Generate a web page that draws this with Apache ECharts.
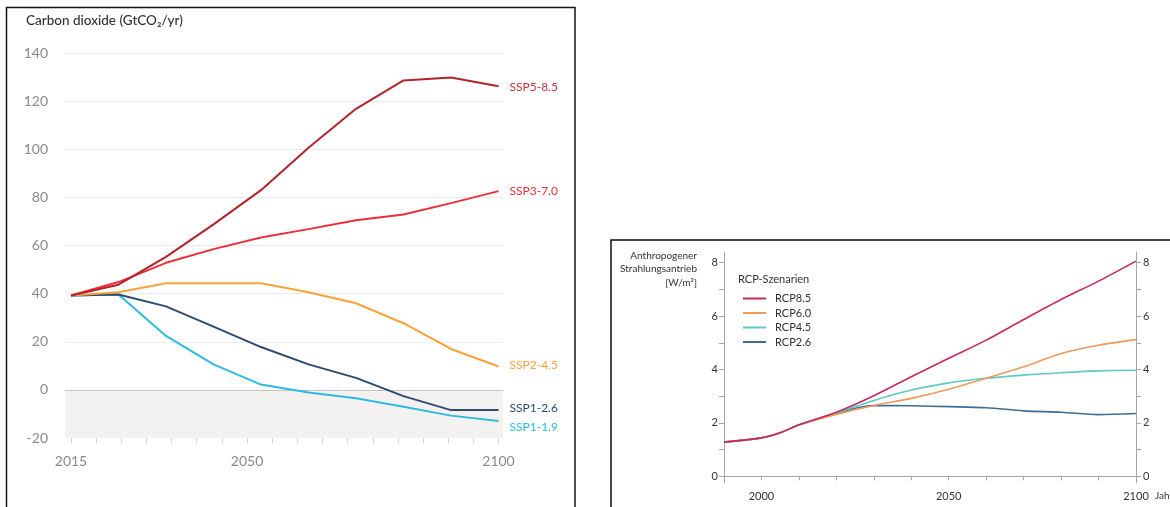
<!DOCTYPE html>
<html>
<head>
<meta charset="utf-8">
<script src="https://cdn.jsdelivr.net/npm/echarts@6/dist/echarts.min.js"></script>
<style>
  html, body { margin: 0; padding: 0; background: #fff; }
  #chart { width: 1170px; height: 507px; }
</style>
</head>
<body>
<div id="chart"></div>
<script>
// left chart: CO2 emissions per SSP scenario (points drawn evenly spaced, like the source)
const sspYears = ['2015', '2020', '2030', '2040', '2050', '2060', '2070', '2080', '2090', '2100']
const ssp585 = [39.2, 43.7, 55.3, 68.8, 83.0, 100.6, 116.8, 128.6, 129.8, 126.2]
const ssp370 = [39.2, 44.8, 52.8, 58.5, 63.3, 66.8, 70.5, 72.9, 77.6, 82.6]
const ssp245 = [39.2, 40.6, 44.3, 44.3, 44.3, 40.6, 36.0, 27.7, 17.0, 9.7]
const ssp126 = [39.2, 39.6, 34.7, 26.3, 17.8, 10.6, 5.0, -2.6, -8.4, -8.4]
const ssp119 = [39.2, 39.6, 22.4, 10.6, 2.2, -1.1, -3.5, -7.0, -10.7, -12.9]
const leftXLabels = [2015, 2050, 2100]

// right chart: anthropogenic radiative forcing per RCP scenario
const rcpYears = [1990, 2000, 2005, 2010, 2020, 2030, 2040, 2050, 2060, 2070, 2080, 2090, 2100]
const rcp85 = [1.28, 1.44, 1.63, 1.93, 2.40, 3.02, 3.73, 4.42, 5.10, 5.87, 6.62, 7.31, 8.06]
const rcp60 = [1.28, 1.44, 1.63, 1.92, 2.32, 2.65, 2.92, 3.26, 3.67, 4.10, 4.60, 4.91, 5.12]
const rcp45 = [1.28, 1.44, 1.63, 1.92, 2.37, 2.84, 3.23, 3.50, 3.67, 3.79, 3.88, 3.95, 3.97]
const rcp26 = [1.28, 1.44, 1.63, 1.92, 2.36, 2.65, 2.64, 2.61, 2.57, 2.45, 2.40, 2.31, 2.35]
const rcpYTicks = [0, 1, 2, 3, 4, 5, 6, 7, 8]
const rcpYLabels = [0, 2, 4, 6, 8]
const rcpXLabels = [2000, 2050, 2100]

const pair = (xs, ys) => xs.map((x, i) => [x, ys[i]])

const chart = echarts.init(document.getElementById('chart'))

const sspSeries = (name, data, color, labelColor, dy) => ({
  name: name,
  type: 'line',
  xAxisIndex: 1,
  yAxisIndex: 1,
  data: data,
  symbol: 'none',
  lineStyle: { color: color, width: 2 },
  endLabel: {
    show: true,
    formatter: name,
    color: labelColor,
    fontFamily: 'Lato',
    fontSize: 12,
    offset: [3, dy]
  },
  z: 3
})

const rcpSeries = (name, data, color) => ({
  name: name,
  type: 'line',
  xAxisIndex: 3,
  yAxisIndex: 3,
  data: pair(rcpYears, data),
  symbol: 'none',
  smooth: 0.3,
  color: color,
  lineStyle: { color: color, width: 1.6 }
})

const option = {
  animation: false,
  backgroundColor: '#fff',
  textStyle: { fontFamily: 'Lato' },
  grid: [
    // left background (grid lines + negative area)
    { left: 65, right: 667, top: 53, bottom: 69 },
    // left data
    { left: 71, right: 671.5, top: 53, bottom: 69 },
    // right background (unused)
    { left: 724, right: 34, top: 252, bottom: 24 },
    // right data
    { left: 724, right: 34, top: 252, bottom: 24 }
  ],
  xAxis: [
    { gridIndex: 0, type: 'value', min: 0, max: 1, show: false },
    { gridIndex: 1, type: 'category', position: 'top', data: sspYears, boundaryGap: false, show: false },
    {
      gridIndex: 1,
      type: 'value',
      position: 'bottom',
      min: 2015,
      max: 2100,
      interval: 5,
      axisLine: { show: false },
      axisTick: { show: true, length: 5, lineStyle: { color: '#cfcfcf' } },
      splitLine: { show: false },
      axisLabel: {
        color: '#8a8a8a',
        fontSize: 14,
        margin: 16,
        formatter: (v) => (leftXLabels.includes(v) ? String(v) : '')
      }
    },
    {
      gridIndex: 3,
      type: 'value',
      min: 1990,
      max: 2100,
      interval: 10,
      axisLine: { show: true, lineStyle: { color: '#a6a6a6' } },
      axisTick: { show: true, length: 4, lineStyle: { color: '#a6a6a6' } },
      splitLine: { show: false },
      axisLabel: {
        color: '#333',
        fontSize: 11,
        margin: 8,
        formatter: (v) => (rcpXLabels.includes(v) ? String(v) : '')
      }
    }
  ],
  yAxis: [
    {
      gridIndex: 0,
      type: 'value',
      min: -20,
      max: 140,
      interval: 20,
      axisLine: { show: false },
      axisTick: { show: false },
      axisLabel: { color: '#8a8a8a', fontSize: 14, margin: 17 },
      splitLine: {
        show: true,
        lineStyle: {
          color: ['transparent', '#c4c4c4', '#ececec', '#ececec', '#ececec', '#ececec', '#ececec', '#ececec', '#ececec'],
          width: 1.2
        }
      },
      splitArea: {
        show: true,
        areaStyle: { color: ['#f3f2f1', 'rgba(0,0,0,0)', 'rgba(0,0,0,0)', 'rgba(0,0,0,0)', 'rgba(0,0,0,0)', 'rgba(0,0,0,0)', 'rgba(0,0,0,0)', 'rgba(0,0,0,0)'] }
      }
    },
    { gridIndex: 1, type: 'value', min: -20, max: 140, show: false },
    {
      gridIndex: 3,
      type: 'value',
      min: -0.25,
      max: 8.4,
      axisLine: { show: true, lineStyle: { color: '#a6a6a6' } },
      axisTick: { show: true, length: 5, customValues: rcpYTicks, lineStyle: { color: '#a6a6a6' } },
      axisLabel: { color: '#333', fontSize: 11, margin: 6, customValues: rcpYLabels },
      splitLine: { show: false }
    },
    {
      gridIndex: 3,
      type: 'value',
      position: 'right',
      min: -0.25,
      max: 8.4,
      axisLine: { show: true, lineStyle: { color: '#a6a6a6' } },
      axisTick: { show: true, length: 5, customValues: rcpYTicks, lineStyle: { color: '#a6a6a6' } },
      axisLabel: { color: '#333', fontSize: 11, margin: 7, customValues: rcpYLabels },
      splitLine: { show: false }
    }
  ],
  legend: {
    data: ['RCP8.5', 'RCP6.0', 'RCP4.5', 'RCP2.6'],
    orient: 'vertical',
    left: 738,
    top: 288,
    icon: 'rect',
    itemWidth: 23,
    itemHeight: 2,
    itemGap: 3.5,
    textStyle: { color: '#333', fontSize: 11, fontFamily: 'Lato', padding: [0, 0, 0, 4] }
  },
  graphic: [
    {
      type: 'rect',
      shape: { x: 6.5, y: 7.5, width: 568.5, height: 620 },
      style: { fill: 'none', stroke: '#111', lineWidth: 1.5 },
      silent: true
    },
    {
      type: 'rect',
      shape: { x: 611, y: 240, width: 700, height: 400 },
      style: { fill: 'none', stroke: '#111', lineWidth: 1.5 },
      silent: true
    },
    {
      type: 'text',
      left: 26,
      top: 14,
      style: { text: 'Carbon dioxide (GtCO₂/yr)', fill: '#333', font: '500 13.5px Lato' }
    },
    {
      type: 'text',
      x: 697,
      y: 249,
      style: {
        text: 'Anthropogener\nStrahlungsantrieb\n[W/m²]',
        fill: '#333',
        font: '10px Lato',
        align: 'right',
        verticalAlign: 'top',
        lineHeight: 13.5
      }
    },
    {
      type: 'text',
      left: 738,
      top: 274,
      style: { text: 'RCP-Szenarien', fill: '#333', font: '11px Lato' }
    },
    {
      type: 'text',
      left: 1155,
      top: 491,
      style: { text: 'Jahr', fill: '#333', font: '10px Lato' }
    }
  ],
  series: [
    sspSeries('SSP1-1.9', ssp119, '#2dbbe0', '#2dbbe0', 6),
    sspSeries('SSP1-2.6', ssp126, '#2d4a70', '#2d4a70', -2),
    sspSeries('SSP2-4.5', ssp245, '#f9a23a', '#f9a23a', -1),
    sspSeries('SSP3-7.0', ssp370, '#ee2f38', '#ee2f38', 0),
    sspSeries('SSP5-8.5', ssp585, '#b3232e', '#c6323c', 1),
    rcpSeries('RCP2.6', rcp26, '#3e6e94'),
    rcpSeries('RCP4.5', rcp45, '#5fc9c8'),
    rcpSeries('RCP6.0', rcp60, '#f09a5a'),
    rcpSeries('RCP8.5', rcp85, '#c52b5c')
  ]
}

chart.setOption(option)
</script>
</body>
</html>
